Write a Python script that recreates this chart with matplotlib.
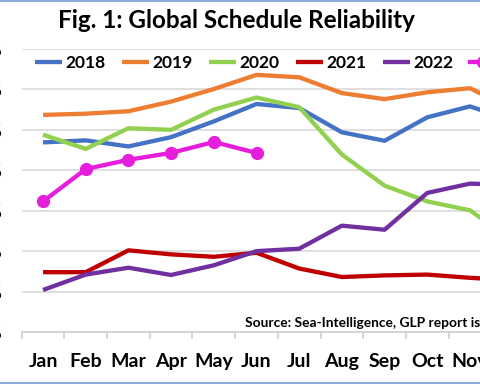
import matplotlib
matplotlib.use("Agg")
import matplotlib.pyplot as plt
from matplotlib.lines import Line2D
import numpy as np

plt.rcParams['font.family'] = ['Lato', 'DejaVu Sans']

months = ["Jan", "Feb", "Mar", "Apr", "May", "Jun", "Jul", "Aug", "Sep", "Oct", "Nov", "Dec"]
y2018 = [66.9, 67.4, 65.9, 68.2, 72.1, 76.4, 75.4, 69.4, 67.3, 73.1, 75.8, 72.3]
y2019 = [73.7, 74.0, 74.6, 77.0, 80.1, 83.6, 83.0, 79.1, 77.6, 79.3, 80.3, 75.1]
y2020 = [68.8, 65.3, 70.4, 70.0, 75.0, 78.0, 75.6, 63.9, 56.2, 52.3, 50.1, 42.5]
y2021 = [34.8, 34.8, 40.2, 39.2, 38.6, 39.6, 35.7, 33.6, 34.0, 34.2, 33.4, 32.8]
y2022 = [30.4, 34.2, 35.9, 34.1, 36.5, 40.0, 40.6, 46.3, 45.3, 54.4, 56.7, 56.4]
y2023 = [52.3, 60.3, 62.6, 64.3, 67.0, 64.3]
yticks = [20, 30, 40, 50, 60, 70, 80, 90]

series = [("2018", y2018, "#4472C4"), ("2019", y2019, "#ED7D31"),
          ("2020", y2020, "#92D050"), ("2021", y2021, "#C00000"),
          ("2022", y2022, "#7030A0")]

W, H = 480, 384
fig = plt.figure(figsize=(4.8, 3.84), dpi=100)
ax = fig.add_axes([21.7 / W, (H - 332) / H, 512.3 / W, 283 / H])

x = np.arange(len(months))
for name, vals, col in series:
    ax.plot(x[:len(vals)], vals, color=col, lw=3.1, label=name, solid_capstyle='butt')
ax.plot(x[:len(y2023)], y2023, color="#E61EDC", lw=3.1, marker='o', markersize=8.5, label="2023")

ax.set_xlim(-0.5, 11.5)
ax.set_ylim(20, 90)
ax.set_yticks(yticks)
ax.set_yticklabels([f"{v}%" for v in yticks], fontsize=13, fontweight='bold')
ax.yaxis.grid(True, color='#d9d9d9', lw=1.2)
ax.set_axisbelow(True)
ax.tick_params(axis='y', length=0, pad=14)
for s in ['top', 'right', 'left']:
    ax.spines[s].set_visible(False)
ax.spines['bottom'].set_color('#d0d0d0')
ax.spines['bottom'].set_linewidth(1.2)

ax.set_xticks(x)
ax.set_xticklabels(months, fontsize=14, fontweight='bold')
ax.tick_params(axis='x', which='major', length=0, pad=15)
ax.set_xticks(np.arange(-0.5, 12, 1), minor=True)
ax.tick_params(axis='x', which='minor', length=5, color='#d0d0d0', width=1.2)

leg = ax.legend(loc='center left', bbox_to_anchor=(35 / W, 1 - 63 / H),
                bbox_transform=fig.transFigure, ncol=6, frameon=False,
                borderpad=0, borderaxespad=0, handlelength=1.55, handletextpad=0.2,
                columnspacing=0.95, prop={'weight': 'bold', 'size': 12.5})

fig.text(236 / W, 1 - 20 / H, "Fig. 1: Global Schedule Reliability",
         ha='center', va='center', fontsize=17.5, fontweight='bold')
fig.text(245 / W, 1 - 323 / H, "Source: Sea-Intelligence, GLP report issue",
         ha='left', va='center', fontsize=9.9, fontweight='bold')

fig.add_artist(Line2D([0, 1], [1 - 0.8 / H, 1 - 0.8 / H], transform=fig.transFigure,
                      color='#8EA9DB', lw=1.5))
fig.add_artist(Line2D([0, 1], [1.5 / H, 1.5 / H], transform=fig.transFigure,
                      color='#8EA9DB', lw=1.5))

fig.savefig("out.png", dpi=100)
